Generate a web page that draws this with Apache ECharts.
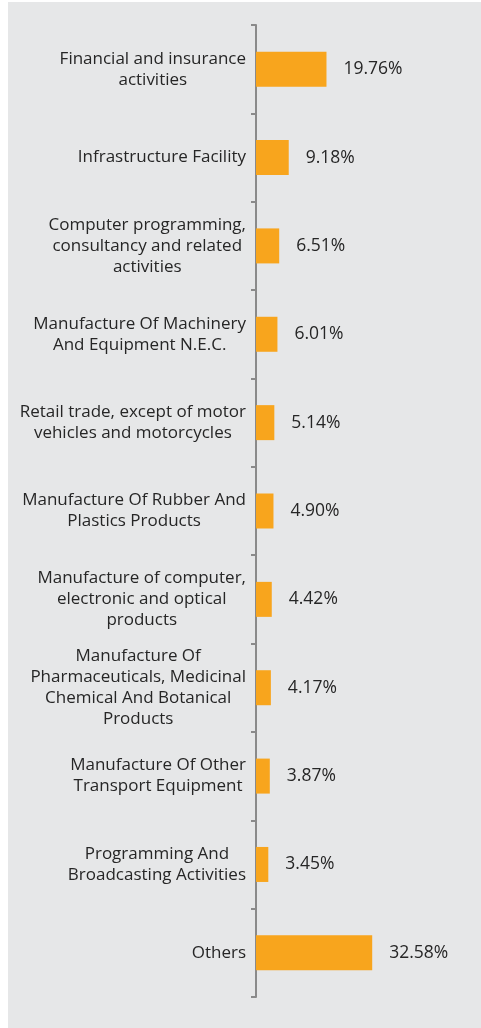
<!DOCTYPE html>
<html>
<head>
<meta charset="utf-8">
<script src="https://cdn.jsdelivr.net/npm/echarts@6/dist/echarts.min.js"></script>
<style>
  html, body { margin: 0; padding: 0; background: #ffffff; }
  #panel { position: absolute; left: 8px; top: 2px; width: 473px; height: 1026px; background: #e6e7e8; }
  #chart { width: 473px; height: 1026px; }
</style>
</head>
<body>
<div id="panel"><div id="chart"></div></div>
<script>
// Sector names, one entry per bar (line breaks as wrapped in the labels)
const categories = [
  'Financial and insurance\nactivities',
  'Infrastructure Facility',
  'Computer programming,\nconsultancy and related\nactivities',
  'Manufacture Of Machinery\nAnd Equipment N.E.C.',
  'Retail trade, except of motor\nvehicles and motorcycles',
  'Manufacture Of Rubber And\nPlastics Products',
  'Manufacture of computer,\nelectronic and optical\nproducts',
  'Manufacture Of\nPharmaceuticals, Medicinal\nChemical And Botanical\nProducts',
  'Manufacture Of Other\nTransport Equipment',
  'Programming And\nBroadcasting Activities',
  'Others'
];

// Share of the total, in percent
const shares = [19.76, 9.18, 6.51, 6.01, 5.14, 4.90, 4.42, 4.17, 3.87, 3.45, 32.58];

const FONT = '"Open Sans", "Noto Sans", sans-serif';

const chart = echarts.init(document.getElementById('chart'), null, { renderer: 'canvas' });

chart.setOption({
  backgroundColor: '#e6e7e8',
  animation: false,
  grid: { left: 248, top: 23, width: 214, height: 972, containLabel: false },
  xAxis: {
    type: 'value',
    min: 0,
    max: 60,
    show: false
  },
  yAxis: {
    type: 'category',
    inverse: true,
    data: categories,
    axisLine: { show: true, lineStyle: { color: '#8a8a8a', width: 2 } },
    axisTick: { show: true, inside: false, length: 5, lineStyle: { color: '#8a8a8a', width: 2 } },
    axisLabel: {
      margin: 10,
      align: 'right',
      // each line is its own rich token so lines centre within the label block
      formatter: function (value) {
        return value.split('\n').map(function (line) { return '{c|' + line + '}'; }).join('\n');
      },
      rich: {
        c: {
          align: 'center',
          fontFamily: FONT,
          fontSize: 17,
          lineHeight: 21,
          color: '#262626'
        }
      }
    },
    splitLine: { show: false }
  },
  series: [{
    type: 'bar',
    data: shares,
    barWidth: 35,
    itemStyle: { color: '#f8a51d' },
    label: {
      show: true,
      position: 'right',
      distance: 17,
      formatter: function (p) { return p.value.toFixed(2) + '%'; },
      fontFamily: FONT,
      fontSize: 17.5,
      color: '#262626'
    }
  }]
});
</script>
</body>
</html>
